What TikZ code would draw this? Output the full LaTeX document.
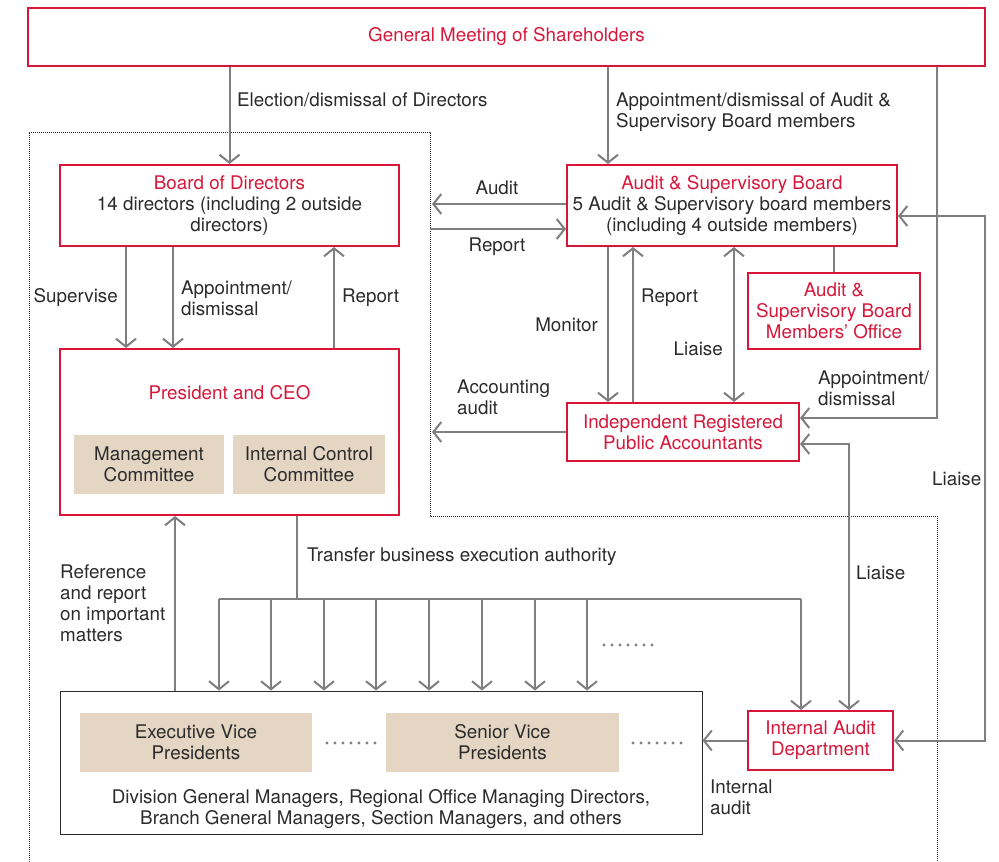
\documentclass[tikz,border=0pt]{standalone}
\usepackage{fontspec}
\usepackage{xcolor}
\setmainfont{TeX Gyre Heros}
\usetikzlibrary{arrows.meta}

\definecolor{govred}{HTML}{D7173A}
\definecolor{linegray}{HTML}{7F7F7F}
\definecolor{txtgray}{HTML}{2B2B2B}
\definecolor{beige}{HTML}{E4D6C3}

\begin{document}
\begin{tikzpicture}[x=1pt,y=-1pt,
  font=\fontsize{18.8}{21}\selectfont,
  redbox/.style={draw=govred,line width=2pt,inner sep=0pt,align=center,text=govred},
  tanbox/.style={fill=beige,inner sep=0pt,align=center,text=txtgray},
  lnk/.style={draw=linegray,line width=2pt},
  arr/.style={lnk,-{Straight Barb[length=8pt,width=20pt]}},
  biarr/.style={lnk,{Straight Barb[length=8pt,width=20pt]}-{Straight Barb[length=8pt,width=20pt]}},
  lbl/.style={text=txtgray,align=left,inner sep=0pt},
  dotline/.style={draw=txtgray,line width=1pt,densely dotted}
]

% ============================================================
% 参数区
% ============================================================

\def\Pitch{8}      % 省略号点距
\def\Dot{1.7}      % 省略号点半径

\useasboundingbox (0,0) rectangle (999,862);

% ============================================================
% 虚线范围
% ============================================================

\draw[dotline] (29,862) -- (29,132) -- (430,132) -- (430,516) -- (937,516) -- (937,862);

% ============================================================
% 各机构
% ============================================================

\node[redbox,minimum width=957,minimum height=58] (gm) at (506.5,37) {General Meeting of Shareholders};

\node[redbox,minimum width=339,minimum height=81,text=txtgray] (bod) at (229.5,205.5)
  {\textcolor{govred}{Board of Directors}\\14 directors (including 2 outside\\directors)};

\node[redbox,minimum width=330,minimum height=81,text=txtgray] (asb) at (732,205.5)
  {\textcolor{govred}{Audit \& Supervisory Board}\\5 Audit \& Supervisory board members\\(including 4 outside members)};

\node[redbox,minimum width=172,minimum height=76] (office) at (834,311)
  {Audit \&\\Supervisory Board\\Members’ Office};

\node[redbox,minimum width=339,minimum height=166] (ceo) at (229.5,432) {};
\node[text=govred,inner sep=0pt] (ceot) at (229.5,393) {President and CEO};
\node[tanbox,minimum width=150,minimum height=59] (mgmt) at (149,464.5) {Management\\Committee};
\node[tanbox,minimum width=152,minimum height=59] (icc) at (309,464.5) {Internal Control\\Committee};

\node[redbox,minimum width=232,minimum height=58] (irpa) at (683,432)
  {Independent Registered\\Public Accountants};

\node[redbox,minimum width=145,minimum height=59] (iad) at (820.5,740.5)
  {Internal Audit\\Department};

\node[draw=txtgray,line width=1pt,minimum width=642,minimum height=143,inner sep=0pt] (staff) at (381,762.5) {};
\node[tanbox,minimum width=232,minimum height=59] (evp) at (196,742.5) {Executive Vice\\Presidents};
\node[tanbox,minimum width=233,minimum height=59] (svp) at (502.5,742.5) {Senior Vice\\Presidents};
\node[text=txtgray,align=center,inner sep=0pt] (stafft) at (381,809.5)
  {Division General Managers, Regional Office Managing Directors,\\Branch General Managers, Section Managers, and others};

% 省略号
\foreach \x/\y in {327/743, 633/743, 604/645} {
  \foreach \k in {0,...,6} {
    \fill[linegray] (\x+\k*\Pitch,\y) circle (\Dot);
  }
}

% ============================================================
% 连线用的坐标
% ============================================================

\coordinate (sup) at (126,0);
\coordinate (app) at (173,0);
\coordinate (rep) at (334,0);
\coordinate (mon) at (608,0);
\coordinate (rpt) at (633,0);
\coordinate (lia) at (734,0);
\coordinate (gmR) at (937,0);
\coordinate (liaR) at (849,0);
\coordinate (refx) at (175,0);
\coordinate (audTip) at (432,204);
\coordinate (repTail) at (430,229);
\coordinate (accTip) at (432,432);
\coordinate (outTop) at (985,216);
\coordinate (trf) at (297,599);
\coordinate (busL) at (219,599);
\coordinate (busR) at (801,599);

% ============================================================
% 箭头
% ============================================================

\draw[arr] (gm.south -| bod) -- (bod.north);
\draw[arr] (gm.south -| mon) -- (asb.north -| mon);
\draw[arr] (gm.south -| gmR) |- ([yshift=14pt]irpa.east);

\draw[arr] (asb.west |- audTip) -- (audTip);
\draw[arr] (repTail) -- (asb.west |- repTail);

\draw[arr] (bod.south -| sup) -- (ceo.north -| sup);
\draw[arr] (bod.south -| app) -- (ceo.north -| app);
\draw[arr] (ceo.north -| rep) -- (bod.south -| rep);

\draw[arr] (asb.south -| mon) -- (irpa.north -| mon);
\draw[arr] (irpa.north -| rpt) -- (asb.south -| rpt);
\draw[biarr] (asb.south -| lia) -- (irpa.north -| lia);
\draw[lnk] (asb.south -| office.north) -- (office.north);

\draw[arr] (irpa.west) -- (accTip);
\draw[biarr] ([yshift=-12pt]irpa.east) -| (iad.north -| liaR);
\draw[biarr] (asb.east |- outTop) -| (iad.east -| outTop) -- (iad.east);

\draw[arr] (staff.north -| refx) -- (ceo.south -| refx);
\draw[lnk] (ceo.south -| trf) -- (trf);
\draw[lnk] (busL) -- (busR);
\foreach \x in {219,271,324,376,429,482,535,587} {
  \coordinate (t) at (\x,599);
  \draw[arr] (t) -- (t |- staff.north);
}
\draw[arr] (busR) -- (busR |- iad.north);
\draw[arr] (iad.west) -- (staff.east |- iad.west);

% ============================================================
% 标注
% ============================================================

\node[lbl,anchor=west] (l1) at (237,100) {Election/dismissal of Directors};
\node[lbl,anchor=west] (l2) at (616,112.5) {Appointment/dismissal of Audit \&\\Supervisory Board members};
\node[lbl] (l3) at (497,188) {Audit};
\node[lbl] (l4) at (497,247) {Report};
\node[lbl,anchor=east] (l5) at (118,298) {Supervise};
\node[lbl,anchor=west] (l6) at (181,298.5) {Appointment/\\dismissal};
\node[lbl,anchor=west] (l7) at (342,298) {Report};
\node[lbl,anchor=west] (l8) at (641,298) {Report};
\node[lbl,anchor=east] (l9) at (598,325) {Monitor};
\node[lbl,anchor=east] (l10) at (723,349) {Liaise};
\node[lbl,anchor=west] (l11) at (457,397.5) {Accounting\\audit};
\node[lbl,anchor=west] (l12) at (818,388) {Appointment/\\dismissal};
\node[lbl,anchor=west] (l13) at (856,573) {Liaise};
\node[lbl,anchor=west] (l14) at (932,479) {Liaise};
\node[lbl,anchor=west] (l15) at (307,557) {Transfer business execution authority};
\node[lbl,anchor=west] (l16) at (60,603.5) {Reference\\and report\\on important\\matters};
\node[lbl,anchor=west] (l17) at (710,797) {Internal\\audit};

\end{tikzpicture}
\end{document}
